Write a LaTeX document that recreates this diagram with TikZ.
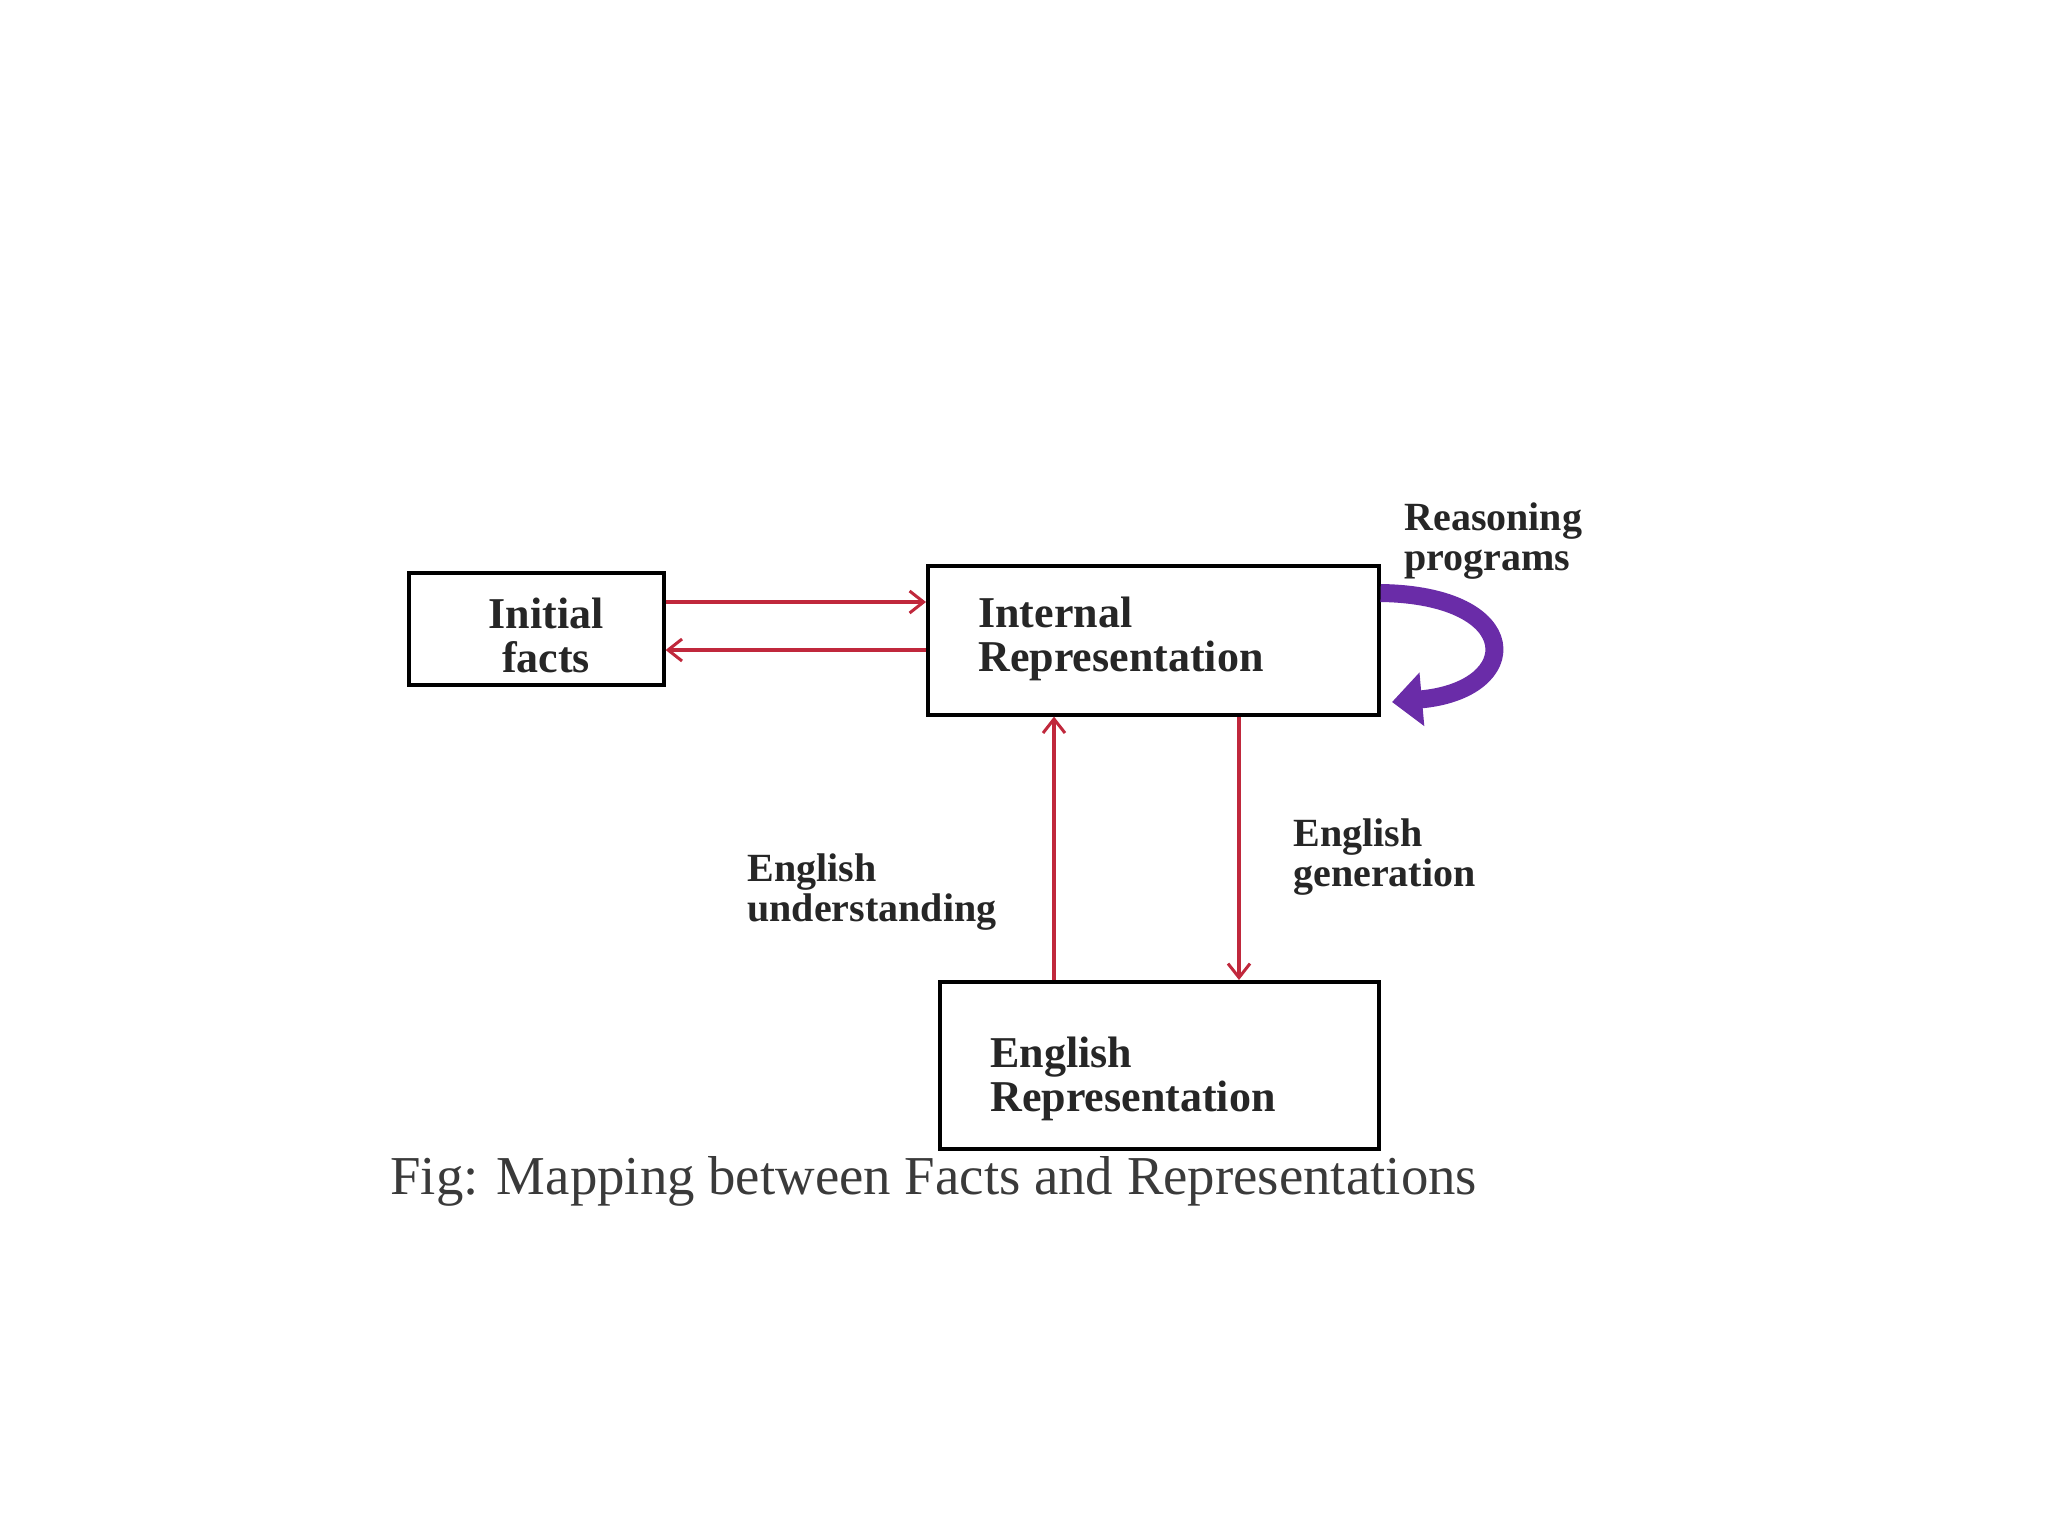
\documentclass[tikz,border=0pt]{standalone}
\usepackage{fontspec}
\setmainfont{Liberation Serif}
\usetikzlibrary{arrows.meta}
\definecolor{linkred}{HTML}{C0283C}
\definecolor{loopviolet}{HTML}{6A2CA8}
\definecolor{captiongrey}{HTML}{3A3A3A}
\tikzset{
  boxnode/.style={draw=black, line width=1.8pt, inner sep=0pt, fill=white},
  boxtext/.style={font=\bfseries\fontsize{22}{22}\selectfont, inner sep=0pt, align=left, text=black!85},
  lbltext/.style={font=\bfseries\fontsize{20}{20}\selectfont, inner sep=0pt, align=left, text=black!85},
  redlink/.style={draw=linkred, line width=1.6pt, -{Straight Barb[length=7pt, width=11pt, line width=1.5pt]}},
}
\begin{document}
\begin{tikzpicture}[x=0.5pt, y=-0.5pt]
  \useasboundingbox (0,0) rectangle (2048,1536);
  % boxes
  \node[boxnode, minimum width=127.5pt, minimum height=56pt, anchor=north west] (init) at (407,571) {};
  \node[boxnode, minimum width=225.5pt, minimum height=74.5pt, anchor=north west] (internal) at (926,564) {};
  \node[boxnode, minimum width=219.5pt, minimum height=83.5pt, anchor=north west] (english) at (938,980) {};
  % box texts
  \node[boxtext, align=center] (initT) at (546,635) {Initial\\facts};
  \node[boxtext, anchor=west] (internalT) at (978,639) {Internal\\Representation};
  \node[boxtext, anchor=west] (englishT) at (990,1079) {English\\Representation};
  % labels
  \node[lbltext, anchor=west] (reasonT) at (1404,541) {Reasoning\\programs};
  \node[lbltext, anchor=west] (underT) at (747,892) {English\\understanding};
  \node[lbltext, anchor=west] (genT) at (1293,857) {English\\generation};
  % connectors
  \draw[redlink] (init.east |- 0,602) -- (internal.west |- 0,602);
  \draw[redlink] (internal.west |- 0,650) -- (init.east |- 0,650);
  \draw[redlink] (english.north -| 1054,0) -- (internal.south -| 1054,0);
  \draw[redlink] (internal.south -| 1239,0) -- (english.north -| 1239,0);
  % reasoning loop
  \coordinate (loopS) at (internal.east |- 0,593);
  \coordinate (loopE) at (1392,702);
  \draw[loopviolet, line width=9pt, -{Triangle[length=15pt, width=26pt]}]
    (loopS) .. controls (1525,595) and (1525,690) .. (loopE);
  % caption
  \node[anchor=base west, inner sep=0pt, text=captiongrey, font=\fontsize{27.4}{30}\selectfont] (caption) at (390,1194) {Fig: Mapping between Facts and Representations};
\end{tikzpicture}
\end{document}
